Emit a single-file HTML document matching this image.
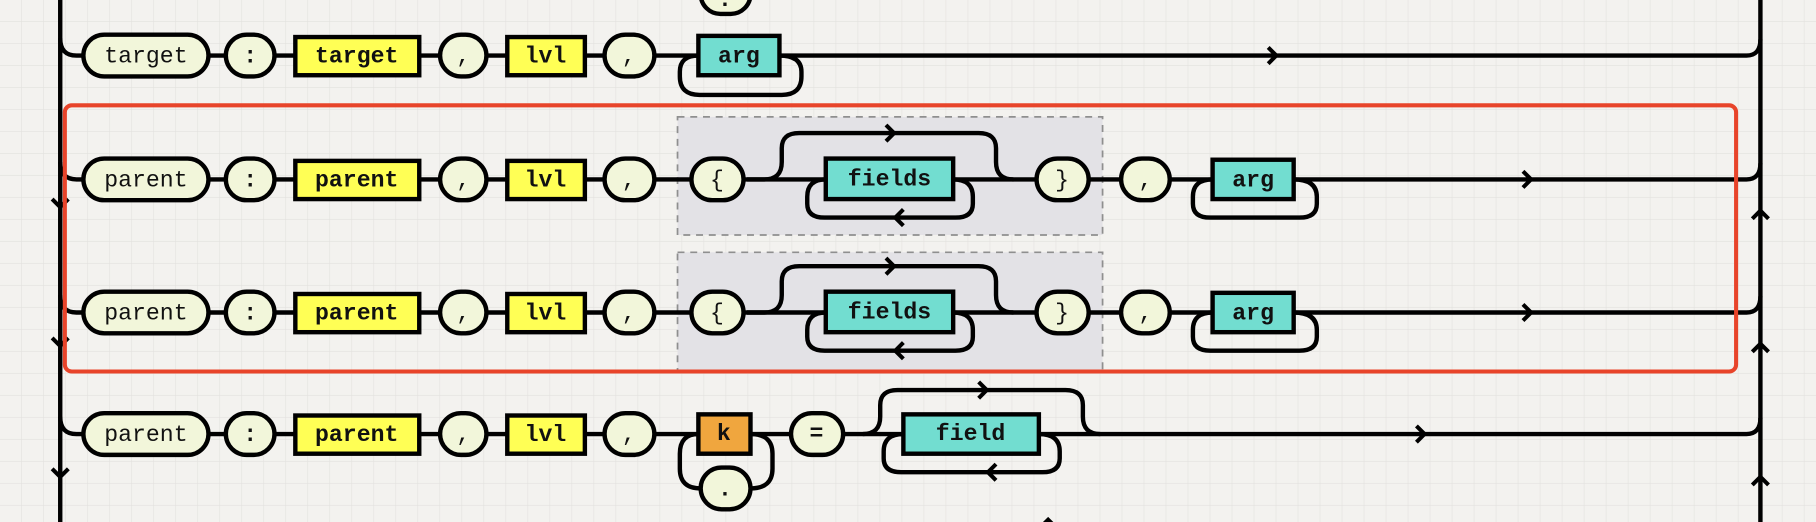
<!DOCTYPE html>
<html><head><meta charset="utf-8"><style>
html,body{margin:0;padding:0;background:#f3f2ef;}
svg{display:block}
text{font-family:"Liberation Mono",monospace;font-size:20px;text-anchor:middle;dominant-baseline:central}
.b{font-weight:bold}
</style></head><body>
<svg width="1816" height="522" viewBox="0 0 1568 451" preserveAspectRatio="none" xmlns="http://www.w3.org/2000/svg">
<defs>
<pattern id="g" width="19" height="19" patternUnits="userSpaceOnUse">
<path d="M19 0V19H0" fill="none" stroke="#e2e1de" stroke-width="1"/>
</pattern>
<g id="chevR"><path d="M-5 -7 L2 0 L-5 7" fill="none" stroke="#000" stroke-width="3.5"/></g>
<g id="chevL"><path d="M5 -7 L-2 0 L5 7" fill="none" stroke="#000" stroke-width="3.5"/></g>
<g id="chevD"><path d="M-7 -5 L0 2 L7 -5" fill="none" stroke="#000" stroke-width="3.5"/></g>
<g id="chevU"><path d="M-7 5 L0 -2 L7 5" fill="none" stroke="#000" stroke-width="3.5"/></g>
</defs>
<rect width="1568" height="451" fill="#f3f2ef"/>
<rect width="1568" height="451" fill="url(#g)"/>

<rect x="585" y="101" width="367" height="102" fill="#e3e2e6" stroke="#8f8f8f" stroke-width="1.5" stroke-dasharray="6,5"/>
<rect x="585" y="218" width="367" height="104" fill="#e3e2e6" stroke="#8f8f8f" stroke-width="1.5" stroke-dasharray="6,5"/>

<g fill="none" stroke="#000" stroke-width="3.8">
<path d="M52 0V451"/>
<path d="M1520 0V451"/>
<path d="M52 33 Q52 48 66 48 H1508 Q1520 48 1520 34"/>
<path d="M603 48 Q587 48 587 62 V66 Q587 82 604 82 H675 Q692 82 692 66 V62 Q692 48 673 48"/>
<path d="M52 140 Q52 155 66 155 H1508 Q1520 155 1520 141"/>
<path d="M645 155 H660 Q675 155 675 140 V128 Q675 115 690 115 H845 Q860 115 860 128 V140 Q860 155 875 155"/>
<path d="M713 155 Q697 155 697 170 V176 Q697 188 712 188 H825 Q840 188 840 176 V170 Q840 155 823 155"/>
<path d="M1047 155 Q1030 155 1030 170 V176 Q1030 188 1045 188 H1122 Q1137 188 1137 176 V170 Q1137 155 1117 155"/>
<path d="M52 255 Q52 270 66 270 H1508 Q1520 270 1520 256"/>
<path d="M645 270 H660 Q675 270 675 255 V243 Q675 230 690 230 H845 Q860 230 860 243 V255 Q860 270 875 270"/>
<path d="M713 270 Q697 270 697 285 V291 Q697 303 712 303 H825 Q840 303 840 291 V285 Q840 270 823 270"/>
<path d="M1047 270 Q1030 270 1030 285 V291 Q1030 303 1045 303 H1122 Q1137 303 1137 291 V285 Q1137 270 1117 270"/>
<path d="M52 360 Q52 375 66 375 H1508 Q1520 375 1520 361"/>
<path d="M603 375 Q587 375 587 392 V405 Q587 422 605 422"/>
<path d="M648 422 Q667 422 667 405 V392 Q667 375 648 375"/>
<path d="M745 375 Q760 375 760 360 V350 Q760 337 775 337 H920 Q935 337 935 350 V360 Q935 375 950 375"/>
<path d="M780 375 Q763 375 763 390 V396 Q763 408 778 408 H900 Q915 408 915 396 V390 Q915 375 897 375"/>
</g>

<use href="#chevR" x="1100" y="48"/>
<use href="#chevR" x="770" y="115"/>
<use href="#chevL" x="775" y="188"/>
<use href="#chevR" x="1320" y="155"/>
<use href="#chevR" x="770" y="230"/>
<use href="#chevL" x="775" y="303"/>
<use href="#chevR" x="1320" y="270"/>
<use href="#chevR" x="850" y="337"/>
<use href="#chevL" x="855" y="408"/>
<use href="#chevR" x="1228" y="375"/>
<use href="#chevD" x="52" y="177"/>
<use href="#chevD" x="52" y="297"/>
<use href="#chevD" x="52" y="410"/>
<use href="#chevU" x="1520" y="184"/>
<use href="#chevU" x="1520" y="299"/>
<use href="#chevU" x="1520" y="414"/>
<use href="#chevU" x="905" y="451"/>

<g stroke="#000" stroke-width="3.8">
<rect x="605" y="-25" width="43" height="37" rx="17" fill="#f2f6da"/>

<rect x="72" y="30" width="108" height="36" rx="18" fill="#f2f6da"/>
<rect x="195" y="30" width="42" height="36" rx="18" fill="#f2f6da"/>
<rect x="255" y="32" width="107" height="33" fill="#ffff55"/>
<rect x="380" y="30" width="40" height="36" rx="18" fill="#f2f6da"/>
<rect x="438" y="32" width="67" height="33" fill="#ffff55"/>
<rect x="522" y="30" width="43" height="36" rx="18" fill="#f2f6da"/>
<rect x="603" y="31" width="70" height="34" fill="#72ddd0"/>

<rect x="72" y="137" width="108" height="36" rx="18" fill="#f2f6da"/>
<rect x="195" y="137" width="42" height="36" rx="18" fill="#f2f6da"/>
<rect x="255" y="139" width="107" height="33" fill="#ffff55"/>
<rect x="380" y="137" width="40" height="36" rx="18" fill="#f2f6da"/>
<rect x="438" y="139" width="67" height="33" fill="#ffff55"/>
<rect x="522" y="137" width="43" height="36" rx="18" fill="#f2f6da"/>
<rect x="597" y="137" width="45" height="36" rx="18" fill="#f2f6da"/>
<rect x="713" y="137" width="110" height="35" fill="#72ddd0"/>
<rect x="895" y="137" width="45" height="36" rx="18" fill="#f2f6da"/>
<rect x="968" y="137" width="42" height="36" rx="18" fill="#f2f6da"/>
<rect x="1047" y="138" width="70" height="34" fill="#72ddd0"/>

<rect x="72" y="252" width="108" height="36" rx="18" fill="#f2f6da"/>
<rect x="195" y="252" width="42" height="36" rx="18" fill="#f2f6da"/>
<rect x="255" y="254" width="107" height="33" fill="#ffff55"/>
<rect x="380" y="252" width="40" height="36" rx="18" fill="#f2f6da"/>
<rect x="438" y="254" width="67" height="33" fill="#ffff55"/>
<rect x="522" y="252" width="43" height="36" rx="18" fill="#f2f6da"/>
<rect x="597" y="252" width="45" height="36" rx="18" fill="#f2f6da"/>
<rect x="713" y="252" width="110" height="35" fill="#72ddd0"/>
<rect x="895" y="252" width="45" height="36" rx="18" fill="#f2f6da"/>
<rect x="968" y="252" width="42" height="36" rx="18" fill="#f2f6da"/>
<rect x="1047" y="253" width="70" height="34" fill="#72ddd0"/>

<rect x="72" y="357" width="108" height="36" rx="18" fill="#f2f6da"/>
<rect x="195" y="357" width="42" height="36" rx="18" fill="#f2f6da"/>
<rect x="255" y="359" width="107" height="33" fill="#ffff55"/>
<rect x="380" y="357" width="40" height="36" rx="18" fill="#f2f6da"/>
<rect x="438" y="359" width="67" height="33" fill="#ffff55"/>
<rect x="522" y="357" width="43" height="36" rx="18" fill="#f2f6da"/>
<rect x="603" y="358" width="45" height="34" fill="#f0a63e"/>
<rect x="605" y="404" width="43" height="36" rx="18" fill="#f2f6da"/>
<rect x="683" y="357" width="45" height="36" rx="18" fill="#f2f6da"/>
<rect x="780" y="358" width="117" height="34" fill="#72ddd0"/>
</g>

<g fill="#111">
<text x="626" y="0" class="b">.</text>
<text x="126" y="49">target</text><text x="216" y="49" class="b">:</text><text x="308" y="49" class="b">target</text>
<text x="400" y="49">,</text><text x="471" y="49" class="b">lvl</text><text x="543" y="49">,</text><text x="638" y="49" class="b">arg</text>

<text x="126" y="156">parent</text><text x="216" y="156" class="b">:</text><text x="308" y="156" class="b">parent</text>
<text x="400" y="156">,</text><text x="471" y="156" class="b">lvl</text><text x="543" y="156">,</text><text x="619" y="156">{</text>
<text x="768" y="155" class="b">fields</text><text x="917" y="156">}</text><text x="989" y="156">,</text><text x="1082" y="156" class="b">arg</text>

<text x="126" y="271">parent</text><text x="216" y="271" class="b">:</text><text x="308" y="271" class="b">parent</text>
<text x="400" y="271">,</text><text x="471" y="271" class="b">lvl</text><text x="543" y="271">,</text><text x="619" y="271">{</text>
<text x="768" y="270" class="b">fields</text><text x="917" y="271">}</text><text x="989" y="271">,</text><text x="1082" y="271" class="b">arg</text>

<text x="126" y="376">parent</text><text x="216" y="376" class="b">:</text><text x="308" y="376" class="b">parent</text>
<text x="400" y="376">,</text><text x="471" y="376" class="b">lvl</text><text x="543" y="376">,</text><text x="625" y="375" class="b">k</text>
<text x="626" y="423" class="b">.</text><text x="705" y="375" class="b">=</text><text x="838" y="375" class="b">field</text>
</g>

<rect x="56" y="91" width="1443" height="230" rx="6" fill="none" stroke="#e8442a" stroke-width="3.5"/>
</svg>
</body></html>
